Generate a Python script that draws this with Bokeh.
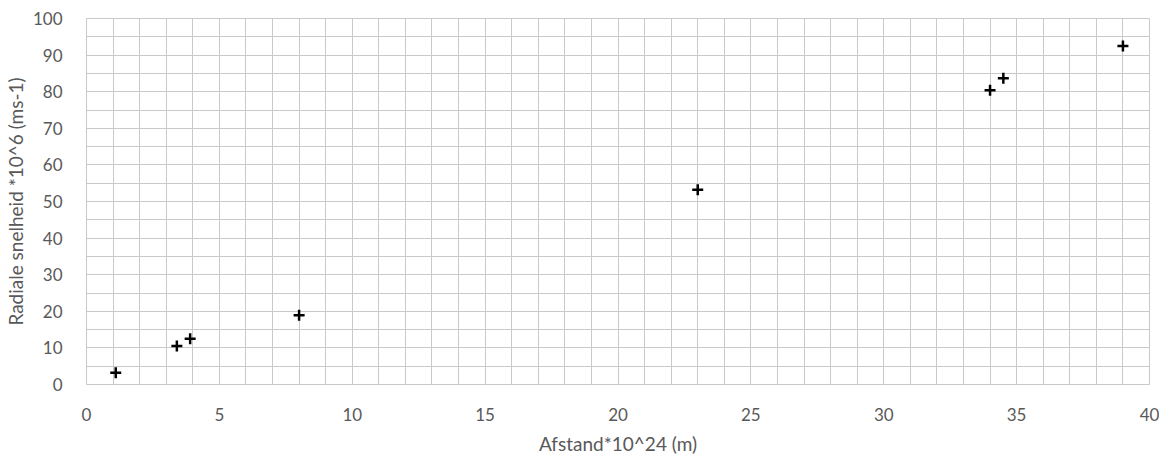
from bokeh.plotting import figure
from bokeh.models import Range1d, SingleIntervalTicker
from bokeh.embed import file_html
from bokeh.resources import INLINE

# Data
afstand = [1.1, 3.4, 3.9, 8.0, 23.0, 34.0, 34.5, 39.0]
snelheid = [3.2, 10.5, 12.5, 18.9, 53.2, 80.4, 83.7, 92.5]

x_label = "Afstand*10^24 (m)"
y_label = "Radiale snelheid *10^6 (ms-1)"

FONT = "Lato"
GRID = "#c9c9c9"
TXT = "#595959"

p = figure(frame_width=1063, frame_height=366,
           x_range=Range1d(0, 40), y_range=Range1d(0, 100),
           output_backend="svg", toolbar_location=None,
           min_border_left=77, min_border_right=10, min_border_top=18, min_border_bottom=10)

p.xaxis.ticker = SingleIntervalTicker(interval=5, num_minor_ticks=0)
p.yaxis.ticker = SingleIntervalTicker(interval=10, num_minor_ticks=0)
p.xgrid.ticker = SingleIntervalTicker(interval=1, num_minor_ticks=0)
p.ygrid.ticker = SingleIntervalTicker(interval=5, num_minor_ticks=0)

for g in (p.xgrid, p.ygrid):
    g.grid_line_color = GRID
    g.grid_line_width = 1

p.outline_line_color = GRID
p.outline_line_width = 1

for ax in (p.xaxis, p.yaxis):
    ax.axis_line_color = None
    ax.major_tick_line_color = None
    ax.minor_tick_line_color = None
    ax.major_label_text_font = FONT
    ax.major_label_text_font_size = "17px"
    ax.major_label_text_color = TXT
    ax.axis_label_text_font = FONT
    ax.axis_label_text_font_size = "19px"
    ax.axis_label_text_font_style = "normal"
    ax.axis_label_text_color = TXT

p.xaxis.axis_label = x_label
p.yaxis.axis_label = y_label
p.xaxis.major_label_standoff = 17
p.yaxis.major_label_standoff = 18
p.xaxis.axis_label_standoff = 8
p.yaxis.axis_label_standoff = 3

p.scatter(afstand, snelheid, marker="cross", size=11, line_width=2.5, line_color="black")

open("out.html", "w").write(file_html(p, INLINE))
